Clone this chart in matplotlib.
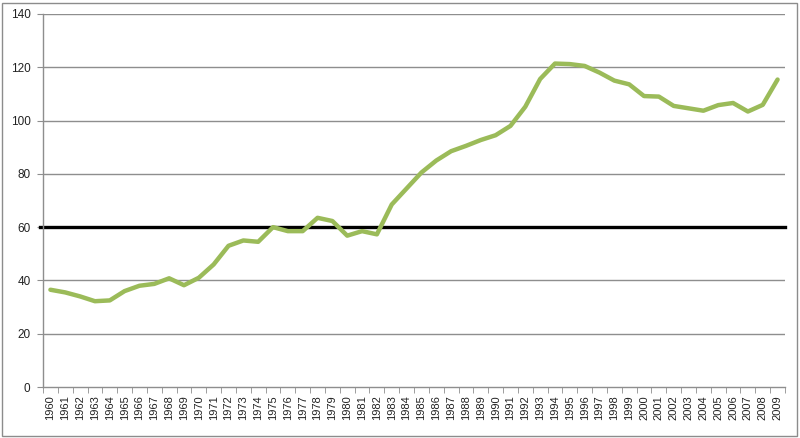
import matplotlib
matplotlib.use("Agg")
import matplotlib.pyplot as plt
import numpy as np
from matplotlib.patches import Rectangle

years = list(range(1960, 2010))
values = [36.5, 35.5, 34.0, 32.2, 32.5, 36.0, 38.0, 38.7, 40.8, 38.2,
          41.0, 46.0, 53.0, 55.0, 54.5, 60.0, 58.5, 58.5, 63.5, 62.3,
          56.8, 58.5, 57.3, 68.5, 74.5, 80.5, 85.0, 88.5, 90.5, 92.7,
          94.5, 98.0, 105.2, 115.6, 121.4, 121.2, 120.5, 118.0, 115.0, 113.6,
          109.2, 109.0, 105.5, 104.6, 103.7, 105.8, 106.6, 103.4, 105.9, 115.4]
threshold = 60
yticks = [0, 20, 40, 60, 80, 100, 120, 140]

plt.rcParams['font.family'] = ['Liberation Sans', 'DejaVu Sans']

fig = plt.figure(figsize=(8, 4.38), dpi=100)
ax = fig.add_axes([43/800, 51/438, 742/800, 373/438])

grid_col = '#8e8e8e'
x = np.arange(len(years))

# horizontal gridlines
for v in yticks[1:]:
    ax.axhline(v, color=grid_col, lw=1, zorder=1)

ax.plot(x, values, color='#9BBB59', lw=3.2, solid_joinstyle='round',
        solid_capstyle='round', zorder=3)

# threshold line
ax.plot([-0.7, len(years) - 0.5], [threshold, threshold], color='black',
        lw=2.4, clip_on=False, zorder=2)

ax.set_xlim(-0.5, len(years) - 0.5)
ax.set_ylim(0, 140)
ax.set_yticks(yticks)
ax.set_xticks(x)
ax.set_xticklabels([str(y) for y in years], rotation=90)
ax.set_xticks(np.arange(-0.5, len(years)), minor=True)
ax.tick_params(axis='x', which='major', length=0, pad=6, labelsize=8,
               labelcolor='#222222')
ax.tick_params(axis='x', which='minor', length=4, color=grid_col, direction='out')
ax.tick_params(axis='y', length=4, color=grid_col, labelsize=8.5, pad=5,
               labelcolor='#222222')

for s in ['top', 'right']:
    ax.spines[s].set_visible(False)
for s in ['left', 'bottom']:
    ax.spines[s].set_color(grid_col)
    ax.spines[s].set_linewidth(1)

fig.patches.append(Rectangle((2/800, 2/438), 795/800, 433/438, transform=fig.transFigure,
                             fill=False, edgecolor='#8c8c8c', lw=1))

fig.savefig('out.png', dpi=100)
